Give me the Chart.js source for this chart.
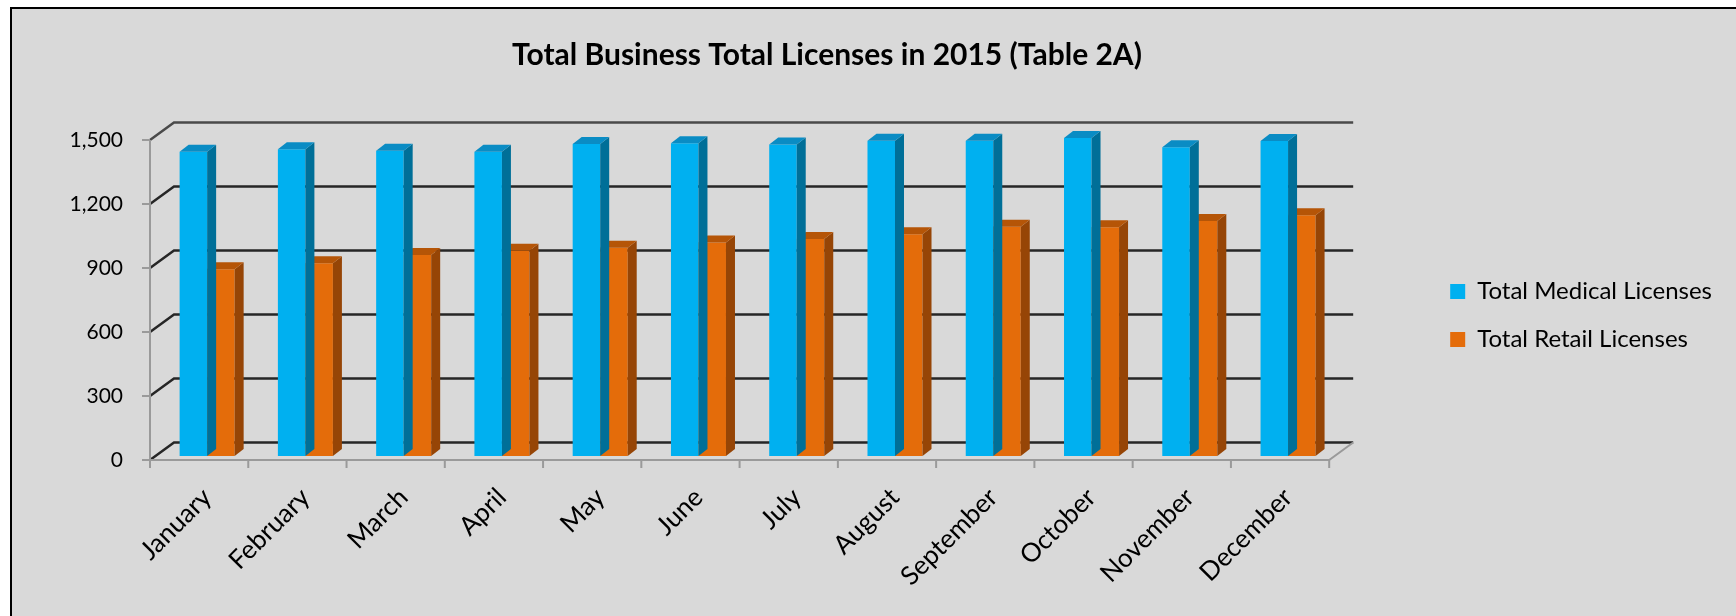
<!DOCTYPE html>
<html>
<head>
<meta charset="utf-8">
<script src="https://cdn.jsdelivr.net/npm/chart.js@4/dist/chart.umd.min.js"></script>
<style>
  html, body { margin: 0; padding: 0; background: #fff; overflow: hidden; }
  #frame {
    position: absolute; left: 10px; top: 7px;
    width: 1800px; height: 700px;
    background: #d9d9d9;
    border-left: 2px solid #000; border-top: 2px solid #000;
  }
  /* canvas starts left of the window so the title centres where the original did */
  #chart { position: absolute; left: -68px; top: 0; }
</style>
</head>
<body>
<div id="frame"></div>
<canvas id="chart" width="1804" height="616"></canvas>
<script>
// Chart data
const months = ['January', 'February', 'March', 'April', 'May', 'June',
    'July', 'August', 'September', 'October', 'November', 'December'];
const medicalLicenses = [1426, 1438, 1431, 1426, 1462, 1466, 1460, 1478, 1478, 1491, 1447, 1477];
const retailLicenses = [875, 903, 942, 962, 976, 1001, 1017, 1040, 1075, 1072, 1102, 1128];
const yTicks = [0, 300, 600, 900, 1200, 1500];

Chart.defaults.font.family = 'Lato';
Chart.defaults.color = '#000';

const shiftLeft = 68; // matches the css offset of the canvas

// fake 3D: side + top faces on every bar, depth in px
const depth = { dx: 9, dy: 7 };
const barFaces = {
    id: 'barFaces',
    afterDatasetDraw(chart, args) {
        const ctx = chart.ctx;
        const ds = chart.data.datasets[args.index];
        ctx.save();
        args.meta.data.forEach(bar => {
            const { x, y, base, width } = bar.getProps(['x', 'y', 'base', 'width'], true);
            const l = x - width / 2, r = x + width / 2;
            ctx.fillStyle = ds.sideColor;
            ctx.beginPath();
            ctx.moveTo(r, y);
            ctx.lineTo(r + depth.dx, y - depth.dy);
            ctx.lineTo(r + depth.dx, base - depth.dy);
            ctx.lineTo(r, base);
            ctx.closePath();
            ctx.fill();
            ctx.fillStyle = ds.topColor;
            ctx.beginPath();
            ctx.moveTo(l, y);
            ctx.lineTo(l + depth.dx, y - depth.dy);
            ctx.lineTo(r + depth.dx, y - depth.dy);
            ctx.lineTo(r, y);
            ctx.closePath();
            ctx.fill();
        });
        ctx.restore();
    }
};

// back wall grid, left wall edges and floor of the 3D box
const wall = { front: { dx: -8, dy: 4 }, back: { dx: 24, dy: 17.5 } };
const walls = {
    id: 'walls',
    beforeDatasetsDraw(chart) {
        const ctx = chart.ctx;
        const ys = chart.scales.y;
        const area = chart.chartArea;
        const fL = area.left + wall.front.dx, fR = area.right + wall.front.dx;
        ctx.save();
        ctx.lineCap = 'butt';
        yTicks.forEach(v => {
            const py = ys.getPixelForValue(v) + wall.front.dy;
            ctx.strokeStyle = v === 1500 ? '#4a4a4a' : '#262626';
            ctx.lineWidth = 2.5;
            ctx.beginPath();
            ctx.moveTo(fL, py);
            ctx.lineTo(fL + wall.back.dx, py - wall.back.dy);
            ctx.lineTo(fR + wall.back.dx, py - wall.back.dy);
            ctx.stroke();
            ctx.strokeStyle = '#9a9a9a';
            ctx.lineWidth = 2;
            ctx.beginPath();
            ctx.moveTo(fL - 8, py);
            ctx.lineTo(fL, py);
            ctx.stroke();
        });
        const top = ys.getPixelForValue(1500) + wall.front.dy;
        const p0 = ys.getPixelForValue(0) + wall.front.dy;
        ctx.strokeStyle = '#9a9a9a';
        ctx.lineWidth = 2;
        ctx.beginPath();
        ctx.moveTo(fL, top);
        ctx.lineTo(fL, p0);
        ctx.lineTo(fR, p0);
        ctx.lineTo(fR + wall.back.dx, p0 - wall.back.dy);
        ctx.stroke();
        for (let k = 0; k <= months.length; k++) {
            const px = fL + k * (fR - fL) / months.length;
            ctx.beginPath();
            ctx.moveTo(px, p0);
            ctx.lineTo(px, p0 + 8);
            ctx.stroke();
        }
        ctx.restore();
    }
};

new Chart(document.getElementById('chart').getContext('2d'), {
    type: 'bar',
    data: {
        labels: months,
        datasets: [
            {
                label: 'Total Medical Licenses',
                data: medicalLicenses,
                backgroundColor: '#00b0f0',
                topColor: '#0a8cc4',
                sideColor: '#006f98',
            },
            {
                label: 'Total Retail Licenses',
                data: retailLicenses,
                backgroundColor: '#e46c0a',
                topColor: '#b55507',
                sideColor: '#964506',
            },
        ],
    },
    options: {
        responsive: false,
        animation: false,
        datasets: { bar: { barPercentage: 1, categoryPercentage: 0.56 } },
        layout: { padding: { top: 15, right: 14, bottom: 0, left: 0 } },
        plugins: {
            title: {
                display: true,
                text: 'Total Business Total Licenses in 2015 (Table 2A)',
                color: '#000',
                font: { size: 30, weight: 'bold' },
                padding: { top: 22, bottom: 63 },
            },
            legend: {
                position: 'right',
                labels: { boxWidth: 15, boxHeight: 15, padding: 24, font: { size: 24 }, color: '#000' },
            },
            tooltip: { enabled: false },
        },
        scales: {
            x: {
                grid: { display: false, drawTicks: false },
                border: { display: false },
                ticks: { minRotation: 45, maxRotation: 45, padding: 26, font: { size: 26 } },
                afterFit: s => { s.height = 160; },
            },
            y: {
                min: 0,
                max: 1500,
                grid: { display: false, drawTicks: false },
                border: { display: false },
                ticks: {
                    stepSize: 300,
                    padding: 35,
                    labelOffset: 4,
                    font: { size: 21 },
                    callback: v => v.toLocaleString('en-US'),
                },
                afterFit: s => { s.width = 158 + shiftLeft; },
            },
            gap: {
                type: 'linear',
                axis: 'y',
                position: 'right',
                grid: { display: false, drawTicks: false },
                border: { display: false },
                ticks: { display: false },
                afterFit: s => { s.width = 89; },
            },
        },
    },
    plugins: [walls, barFaces],
});
</script>
</body>
</html>
